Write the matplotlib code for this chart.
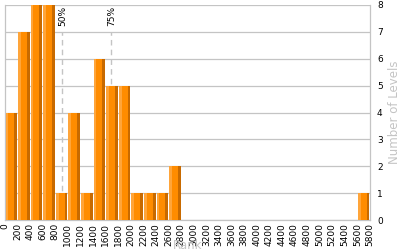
import numpy as np
import matplotlib.pyplot as plt

# 数据：每 200 一个区间
bin_starts = list(range(0, 5800, 200))
counts = [4, 7, 8, 8, 1, 4, 1, 6, 5, 5, 1, 1, 1, 2,
          0, 0, 0, 0, 0, 0, 0, 0, 0, 0, 0, 0, 0, 0, 1]
tick_values = list(range(0, 5801, 200))
y_ticks = list(range(0, 9))
percentile_values = [900, 1684]
percentile_labels = ["50%", "75%"]

BIN = 200
GRAY = "#c4c4c4"

fig = plt.figure(figsize=(4, 2.5), dpi=100)
ax = fig.add_axes([0.0125, 0.12, 0.9125, 0.86])

# 三段颜色的柱子：亮边、主体、暗边
x = np.array(bin_starts, dtype=float)
h = np.array(counts, dtype=float)
x0 = x + BIN * 0.04
ax.bar(x0, h, width=BIN * 0.92, align="edge", color="#ff8c00", zorder=3)
ax.bar(x0, h, width=BIN * 0.22, align="edge", color="#ffa53a", zorder=3)
ax.bar(x0 + BIN * 0.70, h, width=BIN * 0.22, align="edge", color="#c86a00", zorder=3)

# 百分位虚线
for value, label in zip(percentile_values, percentile_labels):
    ax.axvline(value, ymin=0, ymax=0.875, color=GRAY, linestyle=(0, (4, 3)),
               linewidth=1.0, zorder=2)
    ax.text(value + 15, 7.97, label, rotation=90, ha="center", va="top",
            fontsize=6.5, color="#000000", zorder=4)

ax.set_xlim(0, 5800)
ax.set_ylim(0, 8)

ax.set_yticks(y_ticks)
ax.yaxis.tick_right()
ax.yaxis.set_label_position("right")
ax.tick_params(axis="y", length=0, pad=5, labelsize=6.5)
ax.set_xticks(tick_values)
ax.set_xticklabels([str(v) for v in tick_values], rotation=90)
ax.tick_params(axis="x", length=0, pad=2, labelsize=6.5)

ax.grid(axis="y", color=GRAY, linewidth=0.9, zorder=0)
for side in ["left", "right", "top", "bottom"]:
    ax.spines[side].set_color(GRAY)
    ax.spines[side].set_linewidth(0.9)
ax.spines["top"].set_visible(False)

ax.set_xlabel("Rank", color=GRAY, fontsize=8.5, labelpad=-5)
ax.set_ylabel("Number of Levels", color=GRAY, fontsize=8.5, labelpad=4)

fig.savefig("out.png", dpi=100)
